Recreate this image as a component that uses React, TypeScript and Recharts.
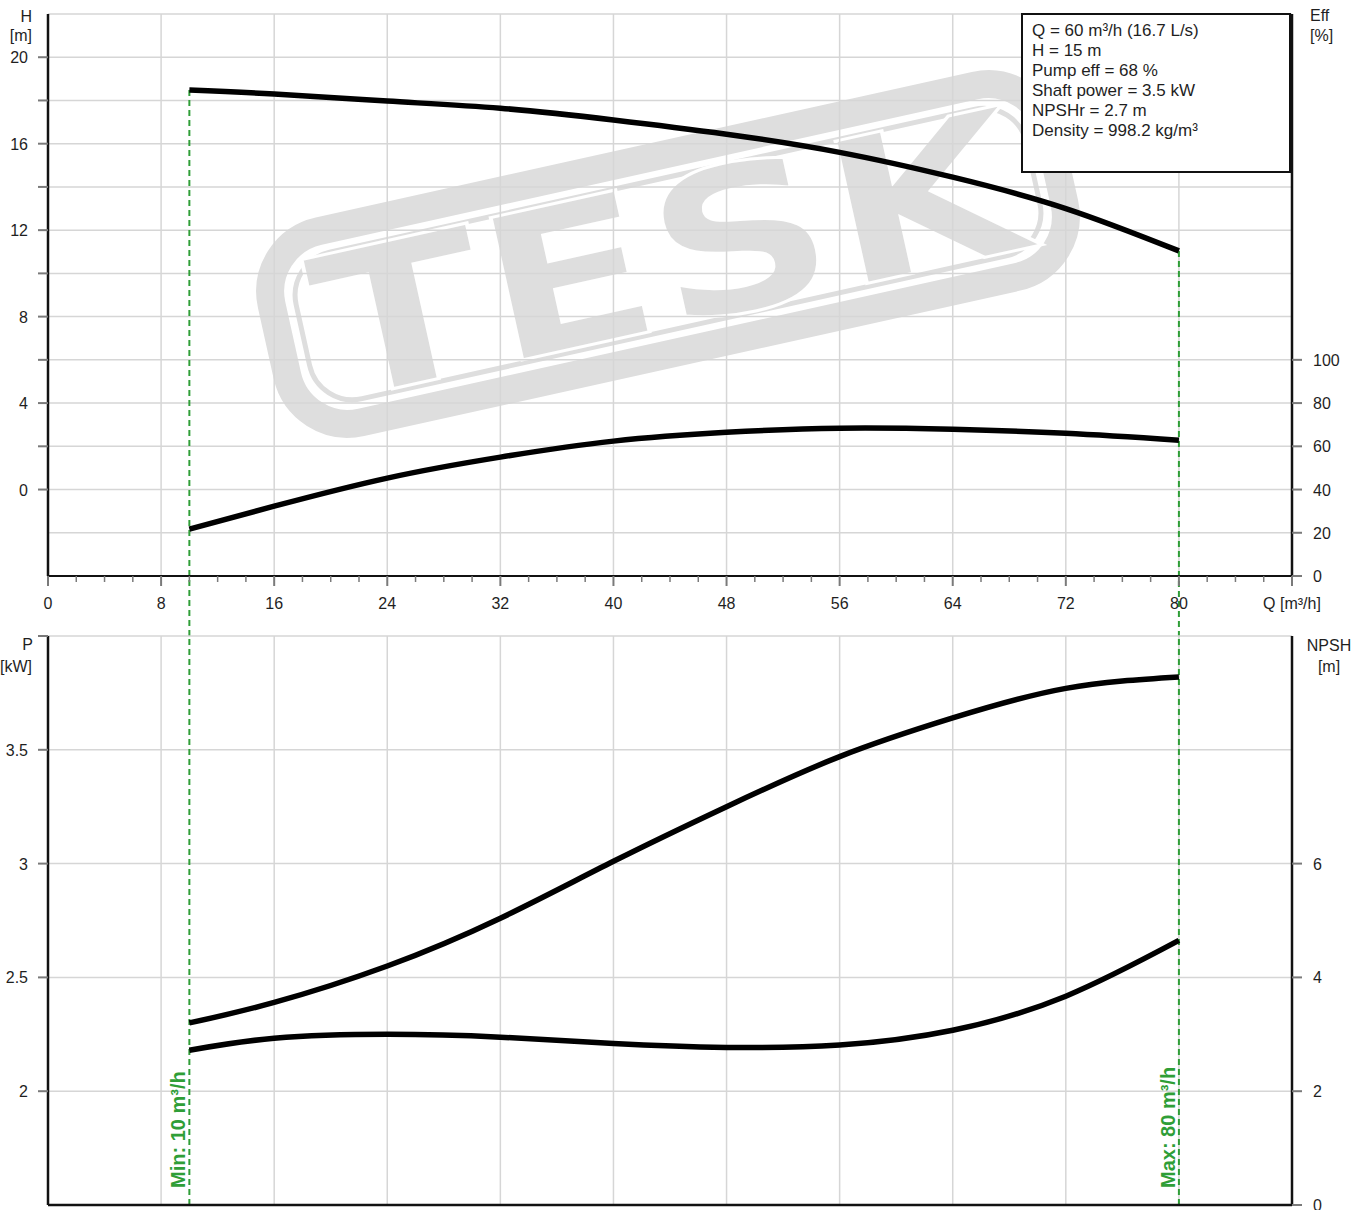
import React from 'react';
import { LineChart, Line, XAxis, YAxis, CartesianGrid, ReferenceLine, Customized } from 'recharts';

// ---------- data ----------
const flowQ = [10, 16, 24, 32, 40, 48, 56, 64, 72, 80];
const headH = [18.48, 18.3, 17.97, 17.64, 17.1, 16.44, 15.6, 14.45, 13.0, 11.04];
const effPct = [21.7, 32.3, 45.3, 55.0, 62.4, 66.5, 68.4, 67.9, 66.0, 62.8];
const powerKW = [2.3, 2.39, 2.55, 2.76, 3.01, 3.25, 3.47, 3.64, 3.77, 3.82];
const npshM = [2.72, 2.93, 3.0, 2.95, 2.84, 2.77, 2.81, 3.07, 3.67, 4.65];

const qTicks = [0, 2, 4, 6, 8, 10, 12, 14, 16, 18, 20, 22, 24, 26, 28, 30, 32, 34, 36, 38, 40, 42, 44, 46, 48, 50, 52, 54, 56, 58, 60, 62, 64, 66, 68, 70, 72, 74, 76, 78, 80, 82, 84, 86, 88];
const qGridTicks = [0, 8, 16, 24, 32, 40, 48, 56, 64, 72, 80, 88];
const hTicks = [-2, 0, 2, 4, 6, 8, 10, 12, 14, 16, 18, 20];
const effTicks = [0, 20, 40, 60, 80, 100];
const pTicks = [2, 2.5, 3, 3.5, 4];
const npshTicks = [0, 2, 4, 6];

const minFlow = 10;
const maxFlow = 80;
const infoLines = [
  'Q = 60 m³/h (16.7 L/s)',
  'H = 15 m',
  'Pump eff = 68 %',
  'Shaft power = 3.5 kW',
  'NPSHr = 2.7 m',
  'Density = 998.2 kg/m³',
];

const topData = flowQ.map((q, i) => ({ q, h: headH[i], eff: effPct[i] }));
const bottomData = flowQ.map((q, i) => ({ q, p: powerKW[i], npsh: npshM[i] }));

// ---------- style ----------
const FONT = '"Liberation Sans", Arial, sans-serif';
const TXT = '#1f1f1f';
const TICK = '#7a7a7a';
const GRID = '#d6d6d6';
const GREEN = '#2f9e37';

const QTick = (props: any) => {
  const { x, y, payload } = props;
  const v = payload.value;
  const major = v % 8 === 0;
  return (
    <g>
      <line x1={x} x2={x} y1={y} y2={y + (major ? 10 : 6)} stroke={TICK} strokeWidth={major ? 2 : 1.5} />
      {major && (
        <text x={x} y={y + 33} textAnchor="middle" fontFamily={FONT} fontSize={16} fill={TXT}>
          {v === 88 ? 'Q [m³/h]' : v}
        </text>
      )}
    </g>
  );
};

const LeftTick = (props: any) => {
  const { x, y, payload, showLabel, showTick } = props;
  const v = payload.value;
  if (!showTick(v)) return <g />;
  return (
    <g>
      <line x1={x - 10} x2={x} y1={y} y2={y} stroke={TICK} strokeWidth={2} />
      {showLabel(v) && (
        <text x={x - 20} y={y + 6} textAnchor="end" fontFamily={FONT} fontSize={16} fill={TXT}>
          {v}
        </text>
      )}
    </g>
  );
};

const RightTick = (props: any) => {
  const { x, y, payload } = props;
  return (
    <g>
      <line x1={x} x2={x + 10} y1={y} y2={y} stroke={TICK} strokeWidth={2} />
      <text x={x + 21} y={y + 6} textAnchor="start" fontFamily={FONT} fontSize={16} fill={TXT}>
        {payload.value}
      </text>
    </g>
  );
};

const LimitLabel = (props: any) => {
  const { viewBox, text } = props;
  if (!viewBox) return null;
  const x = viewBox.x - 4;
  const y = viewBox.y + viewBox.height - 17;
  return (
    <text x={x} y={y} transform={`rotate(-90 ${x} ${y})`} fill={GREEN} fontSize={20} fontWeight="bold" fontFamily={FONT}>
      {text}
    </text>
  );
};

const TopTitles = () => (
  <g fontFamily={FONT} fontSize={16} fill={TXT}>
    <text x={32} y={22} textAnchor="end">H</text>
    <text x={32} y={41} textAnchor="end">[m]</text>
    <text x={1310} y={21} textAnchor="start">Eff</text>
    <text x={1310} y={41} textAnchor="start">[%]</text>
  </g>
);

const BottomTitles = () => (
  <g fontFamily={FONT} fontSize={16} fill={TXT}>
    <text x={33} y={18} textAnchor="end">P</text>
    <text x={32} y={40} textAnchor="end">[kW]</text>
    <text x={1329} y={19} textAnchor="middle">NPSH</text>
    <text x={1329} y={40} textAnchor="middle">[m]</text>
  </g>
);

const Watermark = () => (
  <svg width={1369} height={640} style={{ position: 'absolute', left: 0, top: 0 }}>
    <defs>
      <clipPath id="wmclip">
        <rect x={48} y={14} width={1244} height={562} />
      </clipPath>
    </defs>
    <g clipPath="url(#wmclip)">
      <g transform="translate(668,254) rotate(-12.5)">
        <rect x={-398} y={-98} width={796} height={196} rx={62} fill="none" stroke="#dedede" strokeWidth={28} />
        <rect x={-374} y={-75} width={748} height={150} rx={44} fill="none" stroke="#dedede" strokeWidth={5} />
        <text
          x={0}
          y={72}
          textAnchor="middle"
          fontFamily='"DejaVu Sans", sans-serif'
          fontWeight={900}
          fontSize={200}
          fill="#dedede"
          stroke="#ffffff"
          strokeWidth={3}
          textLength={720}
          lengthAdjust="spacingAndGlyphs"
        >
          TESK
        </text>
      </g>
    </g>
  </svg>
);

export default function App() {
  return (
    <div style={{ position: 'absolute', left: 0, top: 0, width: 1369, height: 1210, background: '#fff', overflow: 'hidden' }}>
      <Watermark />
      <div style={{ position: 'absolute', left: 0, top: 0 }}>
        <LineChart width={1369} height={640} data={topData} margin={{ top: 14, right: 0, bottom: 0, left: 0 }}>
          <CartesianGrid xAxisId="qg" yAxisId="h" stroke={GRID} strokeWidth={1.5} />
          <XAxis xAxisId="top" orientation="top" type="number" dataKey="q" domain={[0, 88]} allowDataOverflow height={0} tick={false} tickLine={false} axisLine={{ stroke: '#111', strokeWidth: 2.5 }} />
          <XAxis xAxisId="q" type="number" dataKey="q" domain={[0, 88]} allowDataOverflow ticks={qTicks} interval={0} height={64} tickSize={0} tickMargin={0} tickLine={false} tick={<QTick />} axisLine={{ stroke: '#111', strokeWidth: 2 }} />
          <XAxis xAxisId="qg" type="number" dataKey="q" domain={[0, 88]} allowDataOverflow ticks={qGridTicks} interval={0} hide />
          <YAxis yAxisId="h" orientation="left" type="number" domain={[-4, 22]} allowDataOverflow ticks={hTicks} interval={0} width={48} tickSize={0} tickMargin={0} tickLine={false}
            tick={<LeftTick showTick={(v: number) => v >= 0} showLabel={(v: number) => v % 4 === 0} />} axisLine={{ stroke: '#111', strokeWidth: 2.5 }} />
          <YAxis yAxisId="eff" orientation="right" type="number" domain={[0, 260]} allowDataOverflow ticks={effTicks} interval={0} width={77} tickSize={0} tickMargin={0} tickLine={false}
            tick={<RightTick />} axisLine={{ stroke: '#111', strokeWidth: 2.5 }} />
          <ReferenceLine xAxisId="q" yAxisId="h" segment={[{ x: minFlow, y: headH[0] }, { x: minFlow, y: -7 }]} ifOverflow="visible" stroke={GREEN} strokeWidth={2} strokeDasharray="6 4" />
          <ReferenceLine xAxisId="q" yAxisId="h" segment={[{ x: maxFlow, y: headH[headH.length - 1] }, { x: maxFlow, y: -7 }]} ifOverflow="visible" stroke={GREEN} strokeWidth={2} strokeDasharray="6 4" />
          <Line xAxisId="q" yAxisId="h" dataKey="h" type="natural" stroke="#000" strokeWidth={5.5} dot={false} activeDot={false} isAnimationActive={false} />
          <Line xAxisId="q" yAxisId="eff" dataKey="eff" type="natural" stroke="#000" strokeWidth={5.5} dot={false} activeDot={false} isAnimationActive={false} />
          <Customized component={TopTitles} />
        </LineChart>
      </div>
      <div
        style={{
          position: 'absolute',
          left: 1021,
          top: 13,
          width: 270,
          height: 160,
          boxSizing: 'border-box',
          border: '2.5px solid #111',
          background: '#fff',
          fontFamily: FONT,
          fontSize: 17,
          lineHeight: '20px',
          padding: '6px 0 0 9px',
          color: TXT,
          whiteSpace: 'nowrap',
        }}
      >
        {infoLines.map((t) => (
          <div key={t}>{t}</div>
        ))}
      </div>
      <div style={{ position: 'absolute', left: 0, top: 632 }}>
        <LineChart width={1369} height={578} data={bottomData} margin={{ top: 4, right: 0, bottom: 0, left: 0 }}>
          <CartesianGrid xAxisId="qg" yAxisId="p" stroke={GRID} strokeWidth={1.5} />
          <XAxis xAxisId="top" orientation="top" type="number" dataKey="q" domain={[0, 88]} allowDataOverflow height={0} tick={false} tickLine={false} axisLine={{ stroke: '#222', strokeWidth: 2 }} />
          <XAxis xAxisId="q" type="number" dataKey="q" domain={[0, 88]} allowDataOverflow height={5} tick={false} tickLine={false} axisLine={{ stroke: '#111', strokeWidth: 2.5 }} />
          <XAxis xAxisId="qg" type="number" dataKey="q" domain={[0, 88]} allowDataOverflow ticks={qGridTicks} interval={0} hide />
          <YAxis yAxisId="p" orientation="left" type="number" domain={[1.5, 4]} allowDataOverflow ticks={pTicks} interval={0} width={48} tickSize={0} tickMargin={0} tickLine={false}
            tick={<LeftTick showTick={() => true} showLabel={(v: number) => v < 4} />} axisLine={{ stroke: '#111', strokeWidth: 2.5 }} />
          <YAxis yAxisId="npsh" orientation="right" type="number" domain={[0, 10]} allowDataOverflow ticks={npshTicks} interval={0} width={77} tickSize={0} tickMargin={0} tickLine={false}
            tick={<RightTick />} axisLine={{ stroke: '#111', strokeWidth: 2.5 }} />
          <ReferenceLine xAxisId="q" yAxisId="p" x={minFlow} stroke={GREEN} strokeWidth={2} strokeDasharray="6 4" label={<LimitLabel text="Min: 10 m³/h" />} />
          <ReferenceLine xAxisId="q" yAxisId="p" x={maxFlow} stroke={GREEN} strokeWidth={2} strokeDasharray="6 4" label={<LimitLabel text="Max: 80 m³/h" />} />
          <Line xAxisId="q" yAxisId="p" dataKey="p" type="natural" stroke="#000" strokeWidth={5.5} dot={false} activeDot={false} isAnimationActive={false} />
          <Line xAxisId="q" yAxisId="npsh" dataKey="npsh" type="natural" stroke="#000" strokeWidth={5.5} dot={false} activeDot={false} isAnimationActive={false} />
          <Customized component={BottomTitles} />
        </LineChart>
      </div>
    </div>
  );
}
